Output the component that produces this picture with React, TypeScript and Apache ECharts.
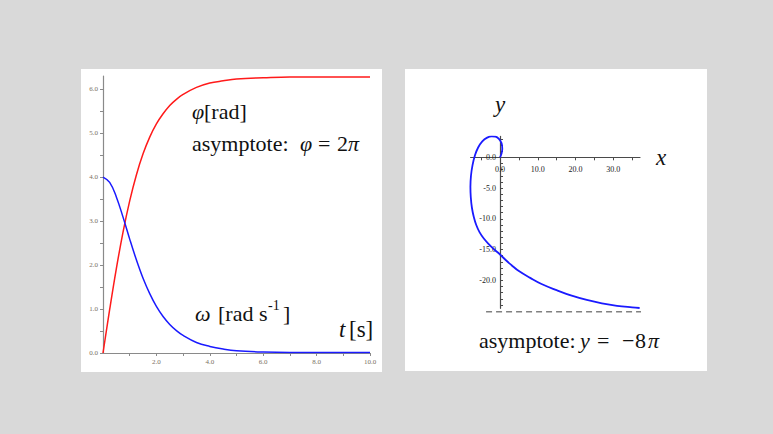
import React, { useEffect, useRef } from "react";
import * as echarts from "echarts";

// ---- left panel: t [s], phi [rad], omega [rad/s]
const tValues = [0, 0.25, 0.5, 0.75, 1, 1.25, 1.5, 1.75, 2, 2.25, 2.5, 2.75, 3, 3.5, 4, 4.5, 5, 6, 7, 8, 9, 10];
const phiValues = [0, 0.99, 1.92, 2.75, 3.46, 4.05, 4.53, 4.91, 5.21, 5.44, 5.63, 5.77, 5.88, 6.04, 6.14, 6.19, 6.23, 6.26, 6.28, 6.28, 6.28, 6.28];
const omegaValues = [4, 3.88, 3.55, 3.09, 2.59, 2.12, 1.7, 1.35, 1.06, 0.83, 0.65, 0.51, 0.4, 0.24, 0.15, 0.09, 0.05, 0.02, 0.01, 0.01, 0.01, 0.01];

const leftXTicks = [1, 2, 3, 4, 5, 6, 7, 8, 9, 10];
const leftXLabels = [2, 4, 6, 8, 10];
const leftYTicks = [0, 0.5, 1, 1.5, 2, 2.5, 3, 3.5, 4, 4.5, 5, 5.5, 6];
const leftYLabels = [0, 1, 2, 3, 4, 5, 6];

// ---- right panel: trajectory (x, y)
const pathX = [0, 0.4, 0.6, 0.4, -0.3, -1.2, -2.2, -3.4, -4.7, -5.8, -6.6, -7.3, -7.7, -7.85, -7.75, -7.45, -6.95, -6.3, -5.4, -4.3, -3.0, -1.5, 0.0, 1.5, 3.0, 5.0, 8.0, 11.0, 15.0, 19.0, 23.0, 27.0, 31.0, 35.0, 37.0];
const pathY = [0, 0.6, 1.4, 2.3, 3.0, 3.35, 3.4, 3.2, 2.6, 1.6, 0.4, -1.3, -3.0, -4.8, -6.5, -8.2, -9.7, -11.0, -12.2, -13.2, -14.1, -15.0, -15.8, -16.7, -17.5, -18.5, -19.6, -20.6, -21.6, -22.5, -23.2, -23.75, -24.15, -24.4, -24.5];
const asymptoteX = [-3.7, 45.1];
const asymptoteY = -25.13;

const rightXTicks = [-5, 0, 5, 10, 15, 20, 25, 30, 35];
const rightXLabels = [0, 10, 20, 30];
const rightYTicks = [3, 2, 1, 0, -1, -2, -3, -4, -5, -6, -7, -8, -9, -10, -11, -12, -13, -14, -15, -16, -17, -18, -19, -20, -21, -22, -23, -24];
const rightYLabels = [0, -5, -10, -15, -20];

const SERIF = '"Liberation Serif", "Times New Roman", serif';

type Piece = { text: string; x: number; base: number; size: number; italic?: boolean };

const textPieces: Piece[] = [
  { text: "φ", x: 192, base: 119, size: 22, italic: true },
  { text: "[rad]", x: 204, base: 119, size: 22 },
  { text: "asymptote:", x: 192, base: 151, size: 22 },
  { text: "φ", x: 300, base: 151, size: 22, italic: true },
  { text: "=", x: 318, base: 151, size: 22 },
  { text: "2", x: 337, base: 151, size: 22 },
  { text: "π", x: 348, base: 151, size: 22, italic: true },
  { text: "ω", x: 195, base: 321, size: 22, italic: true },
  { text: "[rad s", x: 218, base: 321, size: 22 },
  { text: "-1", x: 268, base: 310, size: 14 },
  { text: "]", x: 283, base: 321, size: 22 },
  { text: "t", x: 339, base: 337, size: 23, italic: true },
  { text: "[s]", x: 349, base: 337, size: 23 },
  { text: "y", x: 495, base: 112, size: 23, italic: true },
  { text: "x", x: 656, base: 165, size: 23, italic: true },
  { text: "asymptote:", x: 479, base: 348, size: 22 },
  { text: "y", x: 580, base: 348, size: 22, italic: true },
  { text: "=", x: 597, base: 348, size: 22 },
  { text: "\u2212", x: 622, base: 348, size: 22 },
  { text: "8", x: 635, base: 348, size: 22 },
  { text: "π", x: 648, base: 348, size: 22, italic: true },
];

// right grid geometry (pixels)
const RG = { left: 470.6, top: 136.4, width: 169.4, height: 171.9 };
const RX = { min: -7.8, max: 37.1 };
const RY = { min: -24.55, max: 3.4 };

export default function App() {
  const ref = useRef<HTMLDivElement>(null);

  useEffect(() => {
    if (!ref.current) return;
    const chart = echarts.init(ref.current, undefined, { renderer: "svg" });

    const fmt = (v: number) => v.toFixed(1);

    const leftAxisLine = { lineStyle: { color: "#8a8a8a", width: 1.2 } };
    const leftLabel = { color: "#7a6f62", fontSize: 7, fontFamily: SERIF };
    const rightAxisLine = { lineStyle: { color: "#4a4a4a", width: 1.2 } };
    const rightLabel = { color: "#222222", fontSize: 8, fontFamily: SERIF };

    // offsets that place the right axes through the origin
    const xZeroPx = ((0 - RX.min) / (RX.max - RX.min)) * RG.width;
    const yZeroPx = ((RY.max - 0) / (RY.max - RY.min)) * RG.height;
    const xAxisOffset = -(RG.height - yZeroPx);
    const yAxisOffset = -xZeroPx;

    const graphics: any[] = [
      { type: "rect", z: -10, shape: { x: 81, y: 69, width: 301, height: 303 }, style: { fill: "#ffffff" } },
      { type: "rect", z: -10, shape: { x: 405, y: 69, width: 302, height: 302 }, style: { fill: "#ffffff" } },
    ];
    textPieces.forEach((p) => {
      graphics.push({
        type: "text",
        x: p.x,
        y: p.base - p.size * 0.34,
        z: 10,
        style: {
          text: p.text,
          fill: "#111111",
          font: `${p.italic ? "italic " : ""}${p.size}px ${SERIF}`,
          align: "left",
          verticalAlign: "middle",
          textAlign: "left",
          textVerticalAlign: "middle",
        },
      });
    });

    chart.setOption({
      animation: false,
      backgroundColor: "#d9d9d9",
      grid: [
        { left: 103, top: 76, width: 267, height: 277 },
        { left: RG.left, top: RG.top, width: RG.width, height: RG.height },
      ],
      xAxis: [
        {
          type: "value",
          gridIndex: 0,
          min: 0,
          max: 10,
          axisLine: { show: true, onZero: false, ...leftAxisLine },
          axisTick: { show: true, length: 3, customValues: leftXTicks, lineStyle: { color: "#8a8a8a" } },
          axisLabel: { ...leftLabel, margin: 5, customValues: leftXLabels, formatter: fmt },
          splitLine: { show: false },
        },
        {
          type: "value",
          gridIndex: 1,
          position: "bottom",
          offset: xAxisOffset,
          min: RX.min,
          max: RX.max,
          axisLine: { show: true, onZero: false, ...rightAxisLine },
          axisTick: { show: true, length: 3, customValues: rightXTicks, lineStyle: { color: "#4a4a4a" } },
          axisLabel: { ...rightLabel, margin: 8, customValues: rightXLabels, formatter: fmt },
          splitLine: { show: false },
        },
      ],
      yAxis: [
        {
          type: "value",
          gridIndex: 0,
          min: 0,
          max: 6.3,
          axisLine: { show: true, onZero: false, ...leftAxisLine },
          axisTick: { show: true, length: 3, customValues: leftYTicks, lineStyle: { color: "#8a8a8a" } },
          axisLabel: { ...leftLabel, margin: 5, customValues: leftYLabels, formatter: fmt },
          splitLine: { show: false },
        },
        {
          type: "value",
          gridIndex: 1,
          position: "left",
          offset: yAxisOffset,
          min: RY.min,
          max: RY.max,
          axisLine: { show: true, onZero: false, ...rightAxisLine },
          axisTick: { show: true, inside: true, length: 3, customValues: rightYTicks, lineStyle: { color: "#4a4a4a" } },
          axisLabel: { ...rightLabel, margin: 4, customValues: rightYLabels, formatter: fmt },
          splitLine: { show: false },
        },
      ],
      series: [
        {
          type: "line",
          xAxisIndex: 0,
          yAxisIndex: 0,
          data: tValues.map((t, i) => [t, phiValues[i]]),
          smooth: 0.4,
          showSymbol: false,
          lineStyle: { color: "#ff1a1a", width: 1.5 },
          z: 3,
        },
        {
          type: "line",
          xAxisIndex: 0,
          yAxisIndex: 0,
          data: tValues.map((t, i) => [t, omegaValues[i]]),
          smooth: 0.4,
          showSymbol: false,
          lineStyle: { color: "#1a1aff", width: 1.5 },
          z: 3,
        },
        {
          type: "line",
          xAxisIndex: 1,
          yAxisIndex: 1,
          data: pathX.map((x, i) => [x, pathY[i]]),
          smooth: 0.4,
          showSymbol: false,
          lineStyle: { color: "#1a1aff", width: 1.8 },
          z: 3,
        },
        {
          type: "line",
          xAxisIndex: 1,
          yAxisIndex: 1,
          clip: false,
          data: asymptoteX.map((x) => [x, asymptoteY]),
          showSymbol: false,
          lineStyle: { color: "#808080", width: 1.5, type: [6, 4] },
          z: 2,
        },
      ],
      graphic: graphics,
    });

    return () => chart.dispose();
  }, []);

  return (
    <div
      ref={ref}
      style={{ position: "fixed", left: 0, top: 0, width: 773, height: 434 }}
    />
  );
}
